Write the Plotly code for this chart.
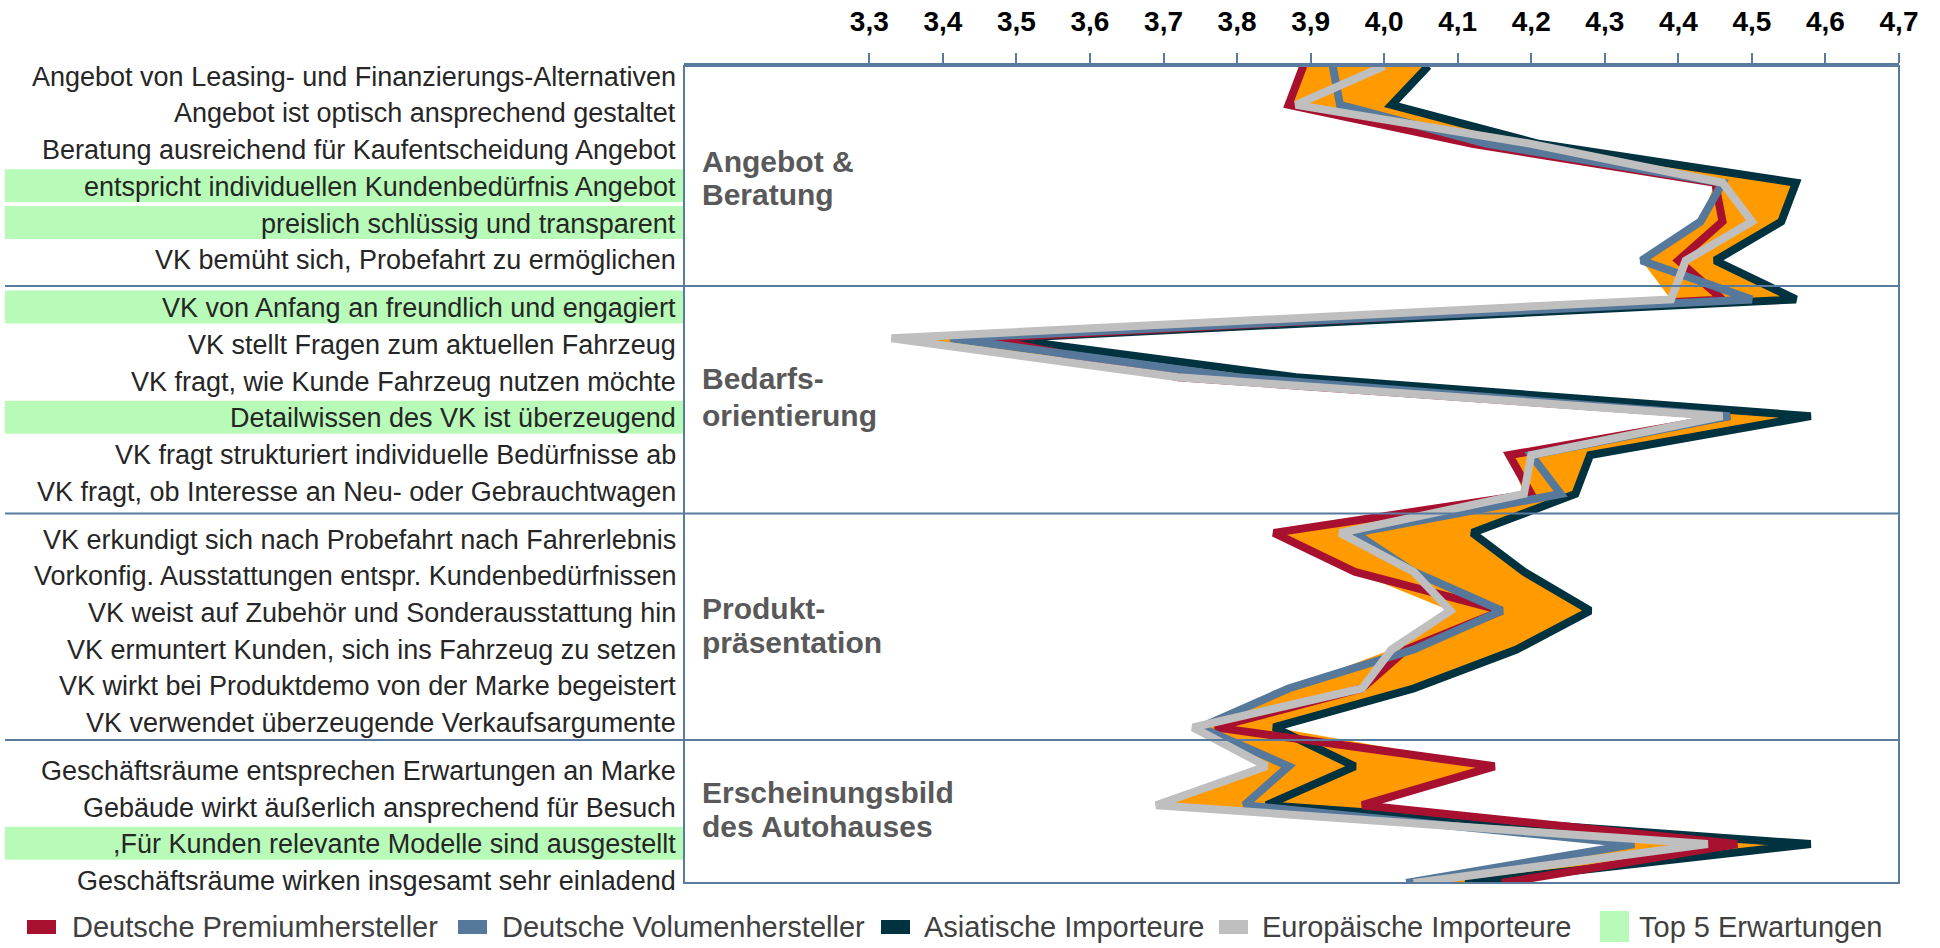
import numpy as np
import plotly.graph_objects as go

# ---- data -------------------------------------------------------------
kriterien = [
    "Angebot von Leasing- und Finanzierungs-Alternativen",
    "Angebot ist optisch ansprechend gestaltet",
    "Beratung ausreichend für Kaufentscheidung Angebot",
    "entspricht individuellen Kundenbedürfnis Angebot",
    "preislich schlüssig und transparent",
    "VK bemüht sich, Probefahrt zu ermöglichen",
    "VK von Anfang an freundlich und engagiert",
    "VK stellt Fragen zum aktuellen Fahrzeug",
    "VK fragt, wie Kunde Fahrzeug nutzen möchte",
    "Detailwissen des VK ist überzeugend",
    "VK fragt strukturiert individuelle Bedürfnisse ab",
    "VK fragt, ob Interesse an Neu- oder Gebrauchtwagen",
    "VK erkundigt sich nach Probefahrt nach Fahrerlebnis",
    "Vorkonfig. Ausstattungen entspr. Kundenbedürfnissen",
    "VK weist auf Zubehör und Sonderausstattung hin",
    "VK ermuntert Kunden, sich ins Fahrzeug zu setzen",
    "VK wirkt bei Produktdemo von der Marke begeistert",
    "VK verwendet überzeugende Verkaufsargumente",
    "Geschäftsräume entsprechen Erwartungen an Marke",
    "Gebäude wirkt äußerlich ansprechend für Besuch",
    ",Für Kunden relevante Modelle sind ausgestellt",
    "Geschäftsräume wirken insgesamt sehr einladend",
]

# group index of each criterion and the group titles (two lines each)
gruppe = [0] * 6 + [1] * 6 + [2] * 6 + [3] * 4
gruppen_titel = [
    ("Angebot &", "Beratung"),
    ("Bedarfs-", "orientierung"),
    ("Produkt-", "präsentation"),
    ("Erscheinungsbild", "des Autohauses"),
]

# criteria that belong to the customers' top 5 expectations
top5 = [3, 4, 6, 9, 20]

premium = [3.89, 3.87, 4.12, 4.45, 4.46, 4.40, 4.46, 3.46, 3.72, 4.47, 4.17,
           4.20, 3.85, 3.96, 4.16, 4.03, 3.97, 3.77, 4.15, 3.97, 4.48, 4.16]
volumen = [3.93, 3.94, 4.14, 4.46, 4.43, 4.35, 4.50, 3.41, 3.80, 4.47, 4.20,
           4.24, 3.96, 4.04, 4.16, 4.04, 3.87, 3.75, 3.87, 3.81, 4.34, 4.03]
asiatisch = [4.06, 4.01, 4.21, 4.56, 4.54, 4.45, 4.56, 3.48, 3.88, 4.58, 4.28,
             4.26, 4.12, 4.19, 4.28, 4.18, 4.04, 3.85, 3.96, 3.84, 4.58, 4.11]
europa = [4.00, 3.88, 4.20, 4.46, 4.50, 4.41, 4.39, 3.33, 3.72, 4.46, 4.20,
          4.19, 3.94, 4.04, 4.09, 4.01, 3.97, 3.74, 3.84, 3.69, 4.44, 4.04]

x_ticks = [3.3, 3.4, 3.5, 3.6, 3.7, 3.8, 3.9, 4.0, 4.1, 4.2, 4.3, 4.4, 4.5, 4.6, 4.7]

serien = [
    ("Deutsche Premiumhersteller", premium, "#A7112F"),
    ("Deutsche Volumenhersteller", volumen, "#56789A"),
    ("Asiatische Importeure", asiatisch, "#00323F"),
    ("Europäische Importeure", europa, "#BFBFBF"),
]

# ---- styling ----------------------------------------------------------
W, H = 1940, 948
PL, PR, PT, PB = 684, 1899, 66, 883     # plot area in pixels
FRAME = "#5A7BA0"
ORANGE = "#FF9A00"
GREEN = "#B8FAB8"
FONT = "Liberation Sans, Arial, sans-serif"


def px_x(x):
    return (x - PL) / (PR - PL)


def px_y(y):
    return 1 - (y - PT) / (PB - PT)


idx = list(range(len(kriterien)))
werte = np.array([premium, volumen, asiatisch, europa])
band_min = werte.min(axis=0)
band_max = werte.max(axis=0)

fig = go.Figure()

# orange band between the lowest and highest rating of each criterion
fig.add_trace(go.Scatter(x=band_min, y=idx, mode="lines", line=dict(width=0),
                         hoverinfo="skip", showlegend=False))
fig.add_trace(go.Scatter(x=band_max, y=idx, mode="lines", line=dict(width=0),
                         fill="tonextx", fillcolor=ORANGE,
                         hoverinfo="skip", showlegend=False))

# series lines (dark first so the others sit on top)
zeichen_reihenfolge = [2, 0, 1, 3]
for k in zeichen_reihenfolge:
    name, vals, col = serien[k]
    fig.add_trace(go.Scatter(x=vals, y=idx, mode="lines", name=name,
                             line=dict(color=col, width=8),
                             showlegend=False))

shapes = []
annotations = []

# frame around the plot area
shapes.append(dict(type="rect", xref="paper", yref="paper", x0=0, x1=1, y0=0, y1=1,
                   line=dict(color=FRAME, width=2), layer="above"))

# group separators running through the label column
for ysep in (286, 513.5, 740):
    shapes.append(dict(type="line", xref="paper", yref="paper",
                       x0=px_x(5), x1=1, y0=px_y(ysep), y1=px_y(ysep),
                       line=dict(color=FRAME, width=2), layer="above"))

# criterion labels with the green top-5 highlight
for i, txt in enumerate(kriterien):
    ly = 76.7 + 36.7 * i + 11.2 * gruppe[i]
    if i in top5:
        shapes.append(dict(type="rect", xref="paper", yref="paper",
                           x0=px_x(5), x1=0, y0=px_y(ly - 1 + 16.5), y1=px_y(ly - 1 - 16.5),
                           fillcolor=GREEN, line=dict(width=0), layer="below"))
    annotations.append(dict(text=txt, xref="paper", yref="paper",
                            x=px_x(678), y=px_y(ly), xanchor="right", yanchor="middle",
                            showarrow=False, font=dict(family=FONT, size=27, color="#262626")))

# group titles inside the plot area
titel_y = [(161, 194), (378, 415), (608, 642), (792, 826)]
for (l1, l2), (y1, y2) in zip(gruppen_titel, titel_y):
    for txt, yy in ((l1, y1), (l2, y2)):
        annotations.append(dict(text=txt, xref="paper", yref="paper",
                                x=px_x(700), y=px_y(yy), xanchor="left", yanchor="middle",
                                showarrow=False,
                                font=dict(family=FONT, size=30, color="#595959", weight="bold")))

# legend row at the bottom
leg_y = 927
leg_items = [
    (serien[0][0], serien[0][2], 27, 70),
    (serien[1][0], serien[1][2], 458, 500),
    (serien[2][0], serien[2][2], 881, 922),
    (serien[3][0], serien[3][2], 1219, 1260),
]
for name, col, mx, tx in leg_items:
    shapes.append(dict(type="rect", xref="paper", yref="paper",
                       x0=px_x(mx), x1=px_x(mx + 29), y0=px_y(leg_y + 7), y1=px_y(leg_y - 7),
                       fillcolor=col, line=dict(width=0)))
    annotations.append(dict(text=name, xref="paper", yref="paper", x=px_x(tx), y=px_y(leg_y),
                            xanchor="left", yanchor="middle", showarrow=False,
                            font=dict(family=FONT, size=29, color="#404040")))
shapes.append(dict(type="rect", xref="paper", yref="paper",
                   x0=px_x(1600), x1=px_x(1629), y0=px_y(942), y1=px_y(911),
                   fillcolor=GREEN, line=dict(width=0)))
annotations.append(dict(text="Top 5 Erwartungen", xref="paper", yref="paper",
                        x=px_x(1637), y=px_y(leg_y), xanchor="left", yanchor="middle",
                        showarrow=False, font=dict(family=FONT, size=29, color="#404040")))

fig.update_layout(
    width=W, height=H,
    margin=dict(l=PL, r=W - PR, t=PT, b=H - PB, pad=0, autoexpand=False),
    paper_bgcolor="white", plot_bgcolor="white",
    separators=",.",
    showlegend=False,
    shapes=shapes,
    annotations=annotations,
    xaxis=dict(range=[3.048, 4.7], side="top", tickvals=x_ticks, tickformat=".1f",
               automargin=False,
               showgrid=False, zeroline=False, showline=True, linecolor=FRAME, linewidth=3,
               ticks="outside", ticklen=10, tickwidth=2, tickcolor=FRAME,
               ticklabelstandoff=11,
               tickfont=dict(family=FONT, size=28, color="black", weight="bold")),
    yaxis=dict(range=[21, 0], showgrid=False, zeroline=False, showticklabels=False,
               automargin=False, showline=False, ticks=""),
)

fig.write_html("out.html")
